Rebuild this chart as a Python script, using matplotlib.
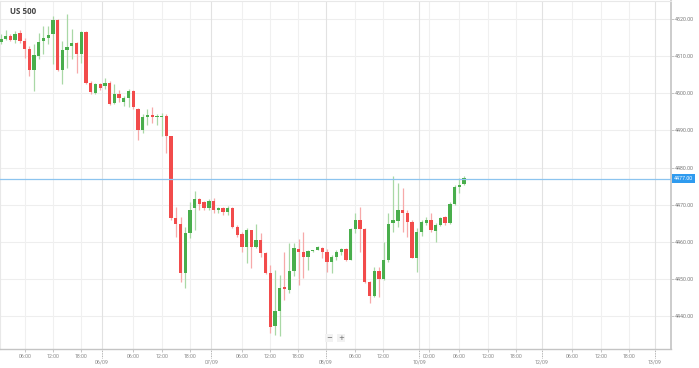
import matplotlib
matplotlib.use("Agg")
import matplotlib.pyplot as plt
import matplotlib.transforms as mtransforms
import numpy as np

# hourly candles, US 500
opens = [4513.9, 4514.7, 4515.5, 4514.4, 4516.3, 4514.2, 4512.0, 4506.4, 4510.1, 4514.2,
         4515.0, 4516.0, 4519.8, 4506.4, 4511.7, 4512.8, 4513.6, 4510.7, 4516.6, 4502.9,
         4500.2, 4502.6, 4502.1, 4502.9, 4497.5, 4499.9, 4497.8, 4498.8, 4500.7, 4495.9,
         4490.0, 4493.7, 4494.3, 4493.5, 4493.5, 4494.0, 4488.4, 4466.3, 4464.7, 4451.5,
         4462.3, 4469.0, 4471.4, 4470.6, 4469.0, 4470.9, 4468.5, 4469.0, 4467.9, 4469.0,
         4463.9, 4462.0, 4458.5, 4463.1, 4458.5, 4460.4, 4456.9, 4451.5, 4437.3, 4441.3,
         4447.8, 4447.0, 4452.1, 4458.0, 4457.2, 4455.8, 4457.5, 4457.7, 4458.3, 4457.2,
         4454.5, 4455.8, 4457.2, 4458.0, 4455.0, 4463.4, 4466.0, 4463.4, 4449.1, 4445.4,
         4452.1, 4449.9, 4455.0, 4465.0, 4465.5, 4468.5, 4467.7, 4465.2, 4455.6, 4462.6,
         4465.0, 4466.0, 4462.8, 4464.4, 4466.6, 4465.0, 4470.1, 4474.7, 4475.5]
highs = [4516.0, 4517.1, 4516.0, 4516.8, 4517.1, 4515.0, 4512.8, 4513.4, 4516.3, 4518.2,
         4518.2, 4520.9, 4520.0, 4514.2, 4521.4, 4517.4, 4513.8, 4516.9, 4516.9, 4503.4,
         4502.8, 4502.8, 4504.2, 4503.4, 4502.6, 4501.0, 4499.4, 4501.3, 4501.0, 4496.0,
         4494.5, 4495.9, 4496.2, 4494.5, 4494.8, 4494.5, 4488.6, 4469.3, 4466.6, 4463.9,
         4470.6, 4473.6, 4471.9, 4471.1, 4471.4, 4471.9, 4469.3, 4469.3, 4469.6, 4469.3,
         4464.4, 4462.6, 4463.6, 4463.1, 4464.7, 4462.3, 4457.2, 4453.7, 4452.3, 4451.0,
         4457.2, 4459.6, 4459.6, 4460.7, 4462.6, 4457.7, 4457.9, 4458.8, 4458.5, 4458.0,
         4456.4, 4457.7, 4458.3, 4458.3, 4463.6, 4467.7, 4469.3, 4463.6, 4449.4, 4453.1,
         4453.1, 4459.9, 4467.7, 4477.6, 4475.8, 4474.4, 4468.5, 4465.8, 4463.6, 4465.8,
         4466.6, 4467.7, 4465.0, 4466.6, 4466.9, 4470.6, 4475.2, 4477.1, 4477.6]
lows = [4513.4, 4514.4, 4514.2, 4513.6, 4513.6, 4509.6, 4504.8, 4500.7, 4509.3, 4510.7,
        4513.4, 4508.0, 4506.1, 4502.6, 4506.9, 4509.3, 4505.6, 4508.2, 4502.6, 4499.9,
        4499.9, 4501.0, 4501.3, 4497.0, 4497.2, 4497.8, 4496.6, 4496.2, 4495.9, 4487.3,
        4489.4, 4491.4, 4491.9, 4491.4, 4488.6, 4483.8, 4466.0, 4461.2, 4449.1, 4447.5,
        4460.9, 4463.1, 4468.5, 4468.5, 4468.5, 4467.7, 4467.7, 4467.2, 4467.2, 4463.6,
        4461.2, 4457.2, 4454.2, 4452.9, 4458.3, 4455.8, 4451.3, 4435.4, 4434.9, 4434.6,
        4444.3, 4446.2, 4450.8, 4448.3, 4450.2, 4452.3, 4457.3, 4457.7, 4455.6, 4451.8,
        4451.5, 4455.0, 4456.4, 4454.8, 4455.0, 4462.3, 4457.2, 4448.8, 4443.5, 4445.1,
        4445.1, 4449.7, 4454.5, 4462.6, 4463.9, 4462.6, 4461.2, 4455.6, 4451.8, 4461.5,
        4464.4, 4462.6, 4459.9, 4464.2, 4464.4, 4464.7, 4469.8, 4473.1, 4475.2]
closes = [4514.7, 4515.5, 4514.4, 4516.0, 4514.2, 4512.0, 4506.4, 4510.4, 4513.9, 4515.0,
          4515.8, 4519.8, 4506.4, 4511.7, 4512.6, 4513.6, 4510.7, 4516.6, 4502.9, 4500.5,
          4502.6, 4501.5, 4502.9, 4497.2, 4499.9, 4498.8, 4498.8, 4500.7, 4496.2, 4490.0,
          4493.7, 4494.3, 4493.5, 4494.0, 4494.0, 4488.6, 4466.3, 4464.7, 4451.5, 4462.3,
          4468.7, 4471.4, 4470.1, 4469.0, 4470.9, 4468.5, 4469.0, 4467.9, 4469.0, 4463.9,
          4461.8, 4458.5, 4463.1, 4458.5, 4460.4, 4456.9, 4451.5, 4437.0, 4441.3, 4447.5,
          4447.2, 4452.1, 4458.3, 4457.2, 4455.8, 4457.5, 4457.7, 4458.5, 4457.2, 4454.5,
          4455.8, 4457.2, 4458.0, 4455.0, 4463.4, 4466.0, 4463.4, 4449.1, 4445.4, 4452.1,
          4449.9, 4455.0, 4464.7, 4465.8, 4468.5, 4467.7, 4465.2, 4455.6, 4462.6, 4465.2,
          4466.0, 4463.1, 4464.4, 4466.3, 4465.0, 4470.1, 4474.7, 4475.2, 4477.1]

current_price = 4477.00
price_ticks = [4440, 4450, 4460, 4470, 4480, 4490, 4500, 4510, 4520]

# axis labels (positions in candle-index units)
hour_pos = [5.1, 11.0, 16.9, 27.9, 34.1, 40.0, 51.0, 56.9, 62.9, 74.9, 80.9, 90.6,
            97.0, 103.1, 109.0, 120.9, 127.0, 132.9]
hour_labels = ['06:00', '12:00', '18:00', '06:00', '12:00', '18:00', '06:00', '12:00',
               '18:00', '06:00', '12:00', '00:00', '06:00', '12:00', '18:00', '06:00',
               '12:00', '18:00']
day_pos = [21.4, 44.5, 68.8, 88.5, 114.5, 138.4]
day_labels = ['06/09', '07/09', '08/09', '10/09', '12/09', '13/09']

GREEN = '#49ae4c'
RED = '#f24b4b'
GREEN_WICK = '#a9d8a6'
RED_WICK = '#f7a9a9'
FONT = 'Roboto'

fig = plt.figure(figsize=(6.99, 3.68), dpi=100)
ax = fig.add_axes([0, 19 / 368, 671 / 699, 348 / 368])

o = np.array(opens)
h = np.array(highs)
l = np.array(lows)
c = np.array(closes)
x = np.arange(len(o))
up = c >= o

ax.vlines(x[up], l[up], h[up], color=GREEN_WICK, lw=0.9, zorder=2)
ax.vlines(x[~up], l[~up], h[~up], color=RED_WICK, lw=0.9, zorder=2)
body = np.maximum(np.abs(c - o), 0.3)
bottom = np.minimum(o, c)
ax.bar(x[up], body[up], bottom=bottom[up], width=0.7, color=GREEN, zorder=3)
ax.bar(x[~up], body[~up], bottom=bottom[~up], width=0.7, color=RED, zorder=3)

ax.set_xlim(-0.2, 141.8)
ax.set_ylim(4431.1, 4524.9)

# grid
for p in price_ticks:
    ax.axhline(p, color='#eeeeee', lw=0.8, zorder=0)
for p in hour_pos:
    ax.axvline(p, color='#f0f0f0', lw=0.8, zorder=0)
for p in day_pos:
    ax.axvline(p, color='#e2e2e2', lw=0.8, zorder=0)

# current price
ax.axhline(current_price, color='#8cc4ef', lw=0.9, zorder=4)
trans = mtransforms.blended_transform_factory(ax.transAxes, ax.transData)
ax.text(1.004, current_price, f'{current_price:.2f}', transform=trans, fontsize=3.8,
        family=FONT, color='white', ha='left', va='center', zorder=5,
        bbox=dict(boxstyle='square,pad=0.35', fc='#2f9bef', ec='none'))

# y axis on the right
ax.yaxis.tick_right()
ax.set_yticks(price_ticks, [f'{p:.2f}' for p in price_ticks])
ax.tick_params(axis='y', length=2, width=0.6, color='#bbbbbb', pad=1,
               labelsize=3.8, labelcolor='#777777')

# x axis: hours as major ticks, days as minor ticks
ax.set_xticks(hour_pos, hour_labels)
ax.set_xticks(day_pos, day_labels, minor=True)
ax.tick_params(axis='x', which='major', length=2, width=0.6, color='#bbbbbb', pad=1.5,
               labelsize=3.8, labelcolor='#888888')
ax.tick_params(axis='x', which='minor', length=0, pad=7.5, labelsize=3.8,
               labelcolor='#888888')
for lab in ax.get_xticklabels(which='both') + ax.get_yticklabels():
    lab.set_family(FONT)
transx = mtransforms.blended_transform_factory(ax.transData, ax.transAxes)
for p in day_pos:
    ax.plot([p, p], [0, -0.025], transform=transx, color='#999999', lw=0.6,
            ls=(0, (1, 1)), clip_on=False)

for side in ['top', 'left']:
    ax.spines[side].set_color('#e8e8e8')
    ax.spines[side].set_linewidth(0.8)
ax.spines['right'].set_color('#c4c4c4')
ax.spines['right'].set_linewidth(1.2)
ax.spines['bottom'].set_color('#c4c4c4')
ax.spines['bottom'].set_linewidth(1.0)

# title
fig.text(10 / 699, 1 - 12 / 368, 'US 500', fontsize=5.8, fontweight='bold',
         family='Open Sans', color='#444444', ha='left', va='center')

# zoom buttons
fig.text(329 / 699, 1 - 338 / 368, '\u2212', fontsize=5, color='#666666',
         ha='center', va='center',
         bbox=dict(boxstyle='square,pad=0.2', fc='#f2f2f2', ec='none'))
fig.text(341 / 699, 1 - 338 / 368, '+', fontsize=5, color='#666666',
         ha='center', va='center',
         bbox=dict(boxstyle='square,pad=0.2', fc='#f2f2f2', ec='none'))

fig.savefig('out.png', dpi=100)
